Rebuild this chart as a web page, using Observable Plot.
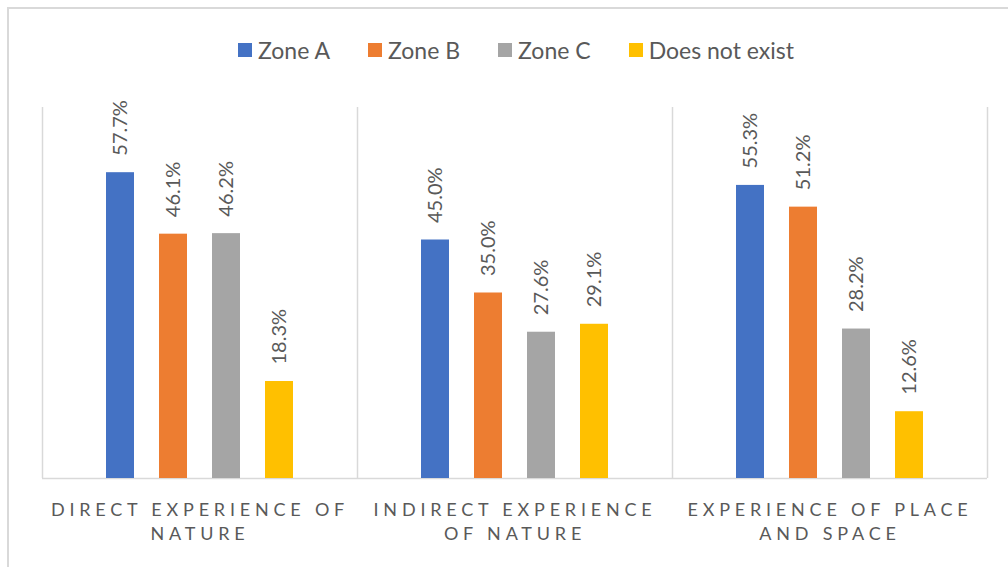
<!DOCTYPE html>
<html>
<head>
<meta charset="utf-8">
<script src="https://cdn.jsdelivr.net/npm/d3@7"></script>
<script src="https://cdn.jsdelivr.net/npm/@observablehq/plot@0.6"></script>
<style>
  html, body { margin: 0; padding: 0; background: #fff; }
  #wrap { position: relative; width: 1008px; height: 567px; overflow: hidden; font-family: Lato, "Open Sans", sans-serif; }
  #border { position: absolute; left: 7px; top: 7px; width: 1020px; height: 580px; border: 2px solid #d9d9d9; box-sizing: border-box; pointer-events: none; }
  #legend { height: 80px; box-sizing: border-box; padding-top: 20px; padding-left: 24px; display: flex; justify-content: center; align-items: center; }
  .item { display: flex; align-items: center; margin: 0 19px; font-size: 23px; color: #595959; }
  .sw { width: 14px; height: 14px; margin-right: 6px; }
  #chart svg { display: block; }
</style>
</head>
<body>
<div id="wrap">
  <div id="legend"></div>
  <div id="chart"></div>
  <div id="border"></div>
</div>
<script>
const categories = ["Direct experience of nature", "Indirect experience of nature", "Experience of place and space"];
const categoryLabels = ["DIRECT EXPERIENCE OF\nNATURE", "INDIRECT EXPERIENCE\nOF NATURE", "EXPERIENCE OF PLACE\nAND SPACE"];
const series = ["Zone A", "Zone B", "Zone C", "Does not exist"];
const colors = ["#4472C4", "#ED7D31", "#A5A5A5", "#FFC000"];
const zoneA = [57.7, 45.0, 55.3];
const zoneB = [46.1, 35.0, 51.2];
const zoneC = [46.2, 27.6, 28.2];
const doesNotExist = [18.3, 29.1, 12.6];

const seriesValues = [zoneA, zoneB, zoneC, doesNotExist];
const rows = [];
categories.forEach((c, ci) => {
  series.forEach((s, si) => rows.push({category: c, series: s, value: seriesValues[si][ci]}));
});

// legend
const legend = document.getElementById("legend");
series.forEach((s, i) => {
  const it = document.createElement("div");
  it.className = "item";
  const sw = document.createElement("span");
  sw.className = "sw";
  sw.style.background = colors[i];
  const tx = document.createElement("span");
  tx.textContent = s;
  it.appendChild(sw); it.appendChild(tx);
  legend.appendChild(it);
});

const fmt = v => d3.format(".1f")(v) + "%";
const gridColor = "#d9d9d9";

const chart = Plot.plot({
  width: 1008,
  height: 487,
  marginTop: 27,
  marginBottom: 89,
  marginLeft: 42,
  marginRight: 21,
  style: {fontFamily: "Lato, 'Open Sans', sans-serif", background: "transparent"},
  fx: {domain: categories, padding: 0, axis: null},
  x: {domain: series, paddingInner: 0.478, paddingOuter: 1.17, axis: null},
  y: {domain: [0, 70], axis: null},
  color: {domain: series, range: colors},
  marks: [
    Plot.ruleX(categories, {fx: d => d, x: null, y1: 0, y2: 70, dx: -157.5, stroke: gridColor, strokeWidth: 1.5}),
    Plot.ruleX([categories[categories.length - 1]], {fx: d => d, x: null, y1: 0, y2: 70, dx: 157.5, stroke: gridColor, strokeWidth: 1.5}),
    Plot.ruleY([0], {stroke: gridColor, strokeWidth: 1.5}),
    Plot.barY(rows, {fx: "category", x: "series", y: "value", fill: "series"}),
    Plot.text(rows, {fx: "category", x: "series", y: "value", text: d => fmt(d.value), rotate: -90, textAnchor: "start", dy: -17, fill: "#595959", fontSize: 20}),
    Plot.text(categories, {fx: d => d, text: (d, i) => categoryLabels[i], frameAnchor: "bottom", lineAnchor: "top", dy: 20, lineHeight: 1.333, fontSize: 18, fill: "#595959"})
  ]
});
d3.select(chart).selectAll("text").filter(function () { return this.querySelector("tspan"); })
  .style("letter-spacing", "4.8px");
document.getElementById("chart").appendChild(chart);
</script>
</body>
</html>
